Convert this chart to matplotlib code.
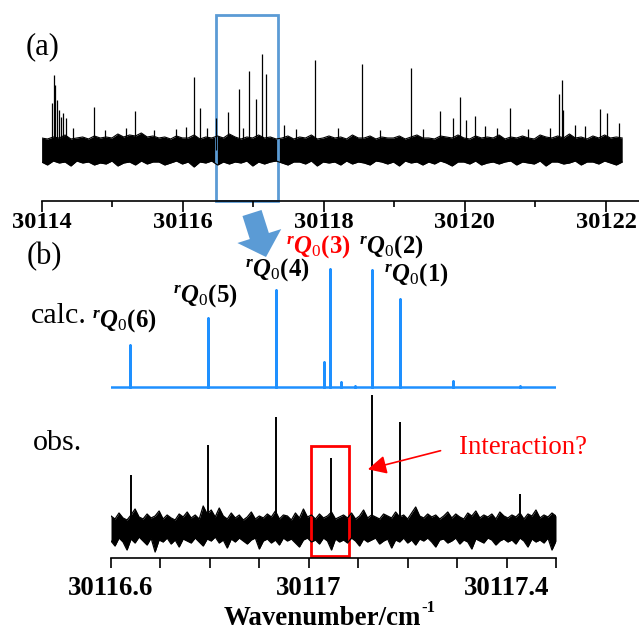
import numpy as np
import matplotlib
matplotlib.use('Agg')
from matplotlib import pyplot as plt
from matplotlib.patches import Rectangle, FancyArrow

plt.rcParams['font.family'] = 'Liberation Serif'
plt.rcParams['mathtext.fontset'] = 'custom'
plt.rcParams['mathtext.rm'] = 'Liberation Serif'
plt.rcParams['mathtext.it'] = 'Liberation Serif:italic'
plt.rcParams['mathtext.bf'] = 'Liberation Serif:bold'
plt.rcParams['mathtext.bfit'] = 'Liberation Serif:italic:bold'

# ---- (a) survey spectrum: noise band envelope + line list ----
a_start, a_end = 30114.0, 30122.23
a_upper = [12, 11, 13, 12, 15, 11, 12, 13, 11, 14, 12, 13, 12, 16, 13, 15, 14, 17, 13, 14,
           12, 13, 11, 14, 12, 12, 15, 11, 13, 12, 14, 12, 16, 13, 11, 13, 12, 15, 12, 13,
           11, 12, 14, 11, 13, 12, 15, 11, 12, 14, 12, 13, 11, 15, 12, 12, 14, 11, 13, 12,
           12, 14, 11, 13, 15, 12, 12, 11, 14, 13, 12, 15, 12, 11, 14, 12, 13, 12, 15, 11,
           13, 12, 14, 12, 11, 15, 13, 12, 14, 12, 16, 12, 13, 11, 14, 12, 15, 12, 13, 12]
a_lower = [-12, -15, -11, -13, -12, -16, -11, -13, -12, -15, -13, -14, -11, -16, -13, -12, -15, -11, -14, -12,
           -12, -15, -13, -11, -14, -12, -17, -12, -13, -11, -15, -12, -14, -12, -13, -11, -16, -12, -14, -12,
           -11, -13, -15, -12, -12, -14, -11, -16, -12, -13, -12, -15, -11, -14, -12, -13, -15, -11, -12, -14,
           -12, -16, -11, -13, -12, -15, -12, -14, -11, -13, -16, -12, -12, -14, -11, -15, -13, -12, -14, -12,
           -11, -15, -12, -13, -14, -11, -16, -12, -12, -14, -13, -11, -15, -12, -12, -14, -11, -13, -15, -12]
a_lines = [30114.15, 30114.17, 30114.19, 30114.22, 30114.25, 30114.28, 30114.31, 30114.34,
           30114.45, 30114.74, 30114.90, 30115.20, 30115.33, 30115.60, 30115.90, 30116.05,
           30116.16, 30116.25, 30116.35, 30116.47, 30116.64, 30116.80, 30116.85, 30116.94,
           30117.04, 30117.12, 30117.18, 30117.43, 30117.60, 30117.87, 30118.20, 30118.54,
           30118.80, 30119.23, 30119.40, 30119.65, 30119.83, 30119.93, 30120.01, 30120.14,
           30120.29, 30120.45, 30120.64, 30120.90, 30121.20, 30121.34, 30121.37, 30121.39,
           30121.56, 30121.70, 30121.92, 30122.02, 30122.18]
a_heights = [47, 75, 65, 50, 40, 33, 37, 32,
             22, 43, 20, 22, 39, 20, 21, 23,
             73, 42, 22, 32, 38, 61, 22, 79,
             51, 96, 76, 25, 21, 90, 22, 86,
             20, 82, 21, 39, 32, 53, 30, 34,
             24, 22, 42, 21, 22, 56, 70, 40,
             25, 24, 41, 37, 27]

# ---- (b) zoomed region: calculated and observed ----
calc_pos = [30116.638, 30116.797, 30116.933, 30117.031, 30117.043, 30117.066,
            30117.094, 30117.127, 30117.185, 30117.292, 30117.427]
calc_int = [41.7, 68.7, 96.7, 24.7, 117.7, 4.7, 1.0, 116.7, 87.7, 5.7, 1.0]

obs_pos = [30116.640, 30116.797, 30116.933, 30117.045, 30117.127, 30117.185, 30117.427]
obs_int = [53, 83, 111, 70, 133, 106, 34]
obs_upper = [12, 9, 15, 10, 8, 13, 19, 11, 9, 14, 10, 12, 17, 9, 13, 10, 8, 14, 11, 16,
             10, 13, 9, 22, 14, 18, 11, 20, 12, 9, 15, 10, 13, 8, 11, 16, 9, 12, 10, 14,
             11, 17, 9, 13, 12, 8, 15, 10, 19, 11, 13, 9, 14, 10, 12, 16, 9, 11, 13, 10,
             15, 9, 12, 18, 10, 13, 11, 9, 14, 12, 10, 16, 11, 13, 9, 15, 21, 12, 10, 14,
             11, 13, 9, 12, 16, 10, 14, 11, 9, 15, 12, 17, 10, 13, 11, 14, 9, 16, 12, 10,
             13, 11, 15, 9, 14, 12, 18, 10, 13, 11, 15, 12]
obs_lower = [-13, -18, -10, -14, -22, -11, -15, -9, -13, -17, -10, -24, -12, -14, -10, -16, -12, -19, -11, -13,
             -15, -10, -14, -18, -11, -13, -9, -15, -12, -20, -11, -14, -10, -13, -16, -12, -10, -21, -13, -11,
             -15, -12, -17, -10, -13, -11, -15, -19, -12, -10, -14, -12, -16, -10, -13, -22, -11, -14, -12, -15,
             -10, -13, -18, -11, -14, -12, -10, -16, -13, -11, -20, -12, -14, -10, -15, -12, -17, -11, -13, -10,
             -14, -19, -12, -11, -15, -13, -10, -16, -12, -14, -21, -11, -13, -15, -10, -12, -17, -13, -11, -14,
             -12, -16, -10, -13, -19, -11, -14, -12, -15, -10, -22, -13]

labels = ['6', '5', '4', '3', '2', '1']
label_xy = [(124.5, 321), (205, 295.5), (277.5, 270), (318, 246.5), (391, 247), (416.5, 275)]

W, H = 639, 630
BLUE_BOX = '#5B9BD5'
CALC = '#1E90FF'


def fx(px):
    return px / W


def fy(py):
    return 1 - py / H


fig = plt.figure(figsize=(W / 100, H / 100), dpi=100)

# ---------------- panel (a) ----------------
ax1 = fig.add_axes([fx(41.6), fy(201), 1 - fx(41.6), fy(15) - fy(201)])
ax1.set_xlim(30114, 30122.468)
ax1.set_ylim(-51, 135)
xa = np.linspace(a_start, a_end, len(a_upper))
ax1.fill_between(xa, a_lower, a_upper, color='black', lw=0)
ax1.plot(xa, a_upper, color='black', lw=0.8)
ax1.plot(xa, a_lower, color='black', lw=0.8)
ax1.vlines(a_lines, 0, a_heights, color='black', lw=0.9)
for s in ['left', 'right', 'top']:
    ax1.spines[s].set_visible(False)
ax1.spines['bottom'].set_linewidth(1.2)
ax1.set_yticks([])
ax1.set_xticks(np.arange(30114, 30123, 2))
ax1.set_xticks(np.arange(30115, 30123, 2), minor=True)
ax1.tick_params(axis='x', which='major', length=8, width=1.2, pad=0, labelsize=17.6)
ax1.tick_params(axis='x', which='minor', length=4, width=1.2)
for t in ax1.get_xticklabels():
    t.set_fontweight('bold')
ax1.add_patch(Rectangle((30116.47, 0), 0.88, 1, transform=ax1.get_xaxis_transform(),
                        fill=False, ec=BLUE_BOX, lw=2, clip_on=False))

# ---------------- panel (b) ----------------
ax2 = fig.add_axes([fx(111), fy(558), fx(556) - fx(111), fy(255) - fy(558)])
ax2.set_xlim(30116.6, 30117.5)
ax2.set_ylim(0, 303)

calc_base = 171.3
cx, cy = [30116.6], [calc_base]
for p, h in zip(calc_pos, calc_int):
    cx += [p, p, p]
    cy += [calc_base, calc_base + h, calc_base]
cx.append(30117.5)
cy.append(calc_base)
ax2.plot(cx, cy, color=CALC, lw=1.8)

obs_base = 30
xo = np.linspace(30116.6, 30117.5, len(obs_upper))
lo = obs_base + np.array(obs_lower)
up = obs_base + np.array(obs_upper)
ax2.fill_between(xo, lo, up, color='black', lw=0)
ax2.plot(xo, up, color='black', lw=0.9)
ax2.plot(xo, lo, color='black', lw=0.9)
ax2.vlines(obs_pos, obs_base, [obs_base + h for h in obs_int], color='black', lw=1.4)

for s in ['left', 'right', 'top']:
    ax2.spines[s].set_visible(False)
ax2.spines['bottom'].set_linewidth(1.2)
ax2.set_yticks([])
ticks = np.round(np.arange(30116.6, 30117.51, 0.1), 1)
ticklabels = ['30116.6', '', '', '', '30117', '', '', '', '30117.4', '']
ax2.set_xticks(ticks, ticklabels)
ax2.tick_params(axis='x', length=7, width=1.2, pad=6, labelsize=19.4)
for t in ax2.get_xticklabels():
    t.set_fontweight('bold')

ax2.add_patch(Rectangle((30117.005, 2), 0.077, 110, fill=False, ec='red', lw=2, clip_on=False))
ax2.annotate('', xy=(30117.114, 88), xytext=(30117.272, 108),
             arrowprops=dict(arrowstyle='-|>', color='red', lw=1.2, mutation_scale=28))
fig.text(fx(459), fy(447.5), 'Interaction?', color='red', fontsize=19.4, ha='left', va='center')

# texts
fig.text(fx(26), fy(47), '(a)', fontsize=22, ha='left', va='center')
fig.text(fx(26.5), fy(257), '(b)', fontsize=22, ha='left', va='center')
fig.text(fx(31), fy(323), 'calc.', fontsize=21.6, ha='left', va='baseline')
fig.text(fx(33), fy(450), 'obs.', fontsize=21.6, ha='left', va='baseline')
for lab, (px, py) in zip(labels, label_xy):
    col = 'red' if lab == '3' else 'black'
    fig.text(fx(px), fy(py), r'$^{\mathbfit{r}}\mathbfit{Q}_{\mathrm{0}}\mathbf{(%s)}$' % lab,
             fontsize=17.8, color=col, ha='center', va='center')
fig.text(fx(421), fy(625), 'Wavenumber/cm', fontsize=19.4, fontweight='bold',
         ha='right', va='baseline')
fig.text(fx(421), fy(612), '-1', fontsize=12, fontweight='bold', ha='left', va='baseline')

# big blue arrow between panels
fig.add_artist(FancyArrow(2.52, (H - 213) / 100, 0.14, -0.44, width=0.2, head_width=0.46,
                          head_length=0.22, length_includes_head=True, color=BLUE_BOX,
                          transform=fig.dpi_scale_trans, lw=0))

fig.savefig('out.png', dpi=100)
